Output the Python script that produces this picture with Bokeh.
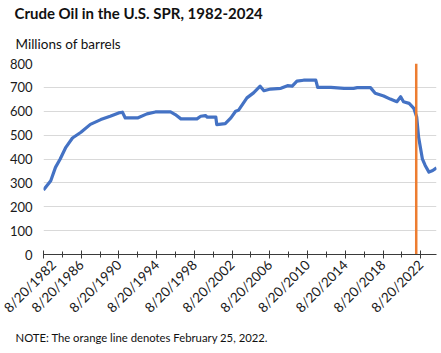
from bokeh.plotting import figure
from bokeh.models import FixedTicker, Range1d, Title
from bokeh.embed import file_html
from bokeh.resources import INLINE

FONT = "Lato"

# Data (decimal years, millions of barrels)
years = [1982.63, 1983.4, 1983.9, 1984.4, 1985.0, 1985.7, 1986.6, 1987.6, 1988.7,
         1989.7, 1990.6, 1991.0, 1991.3, 1992.6, 1993.6, 1994.5, 1996.1, 1996.6,
         1997.2, 1998.9, 1999.3, 1999.8, 2000.0, 2000.9, 2001.0, 2001.9, 2002.5,
         2003.0, 2003.3, 2004.2, 2004.9, 2005.6, 2006.0, 2006.7, 2007.8, 2008.5,
         2009.0, 2009.5, 2010.2, 2011.5, 2011.7, 2013.1, 2014.5, 2015.5, 2015.9,
         2017.3, 2017.8, 2018.7, 2019.4, 2020.1, 2020.5, 2020.8, 2021.4, 2021.9,
         2022.2, 2022.4, 2022.8, 2023.1, 2023.5, 2023.9, 2024.3]
barrels = [270, 309, 365, 400, 449, 488, 512, 545, 565,
           579, 593, 596, 572, 572, 589, 597, 597, 586,
           568, 568, 579, 582, 575, 576, 544, 548, 572,
           600, 604, 656, 677, 705, 686, 693, 696, 707,
           705, 726, 730, 730, 700, 700, 696, 696, 699,
           699, 675, 664, 651, 640, 661, 640, 633, 612,
           576, 492, 401, 373, 345, 352, 363]

invasion_date = 2022.15  # February 25, 2022
tick_years = [1982.63 + 4 * k for k in range(11)]
tick_labels = ["8/20/%d" % (1982 + 4 * k) for k in range(11)]
minor_years = [1982.63 + 2 * k for k in range(21)]
y_ticks = [0, 100, 200, 300, 400, 500, 600, 700, 800]

p = figure(width=441, height=353, output_backend="svg", toolbar_location=None,
           x_range=Range1d(1982.63, 2024.3), y_range=Range1d(0, 800),
           min_border_left=43, min_border_right=5, min_border_top=0,
           min_border_bottom=0)
p.outline_line_color = None
p.background_fill_color = "white"
p.border_fill_color = "white"

p.line(years, barrels, line_color="#4472C4", line_width=3.2, line_join="round")
p.segment(x0=[invasion_date], y0=[0], x1=[invasion_date], y1=[800],
          line_color="#ED7D31", line_width=2.5)

# x axis
p.xaxis.ticker = FixedTicker(ticks=tick_years, minor_ticks=minor_years)
p.xaxis.major_label_overrides = {t: l for t, l in zip(tick_years, tick_labels)}
p.xaxis.major_label_orientation = 0.785398
p.xaxis.axis_line_color = "#3a3a3a"
p.xaxis.axis_line_width = 1.2
p.xaxis.major_tick_line_color = "#3a3a3a"
p.xaxis.minor_tick_line_color = "#3a3a3a"
p.xaxis.major_tick_in = 4
p.xaxis.major_tick_out = 4
p.xaxis.minor_tick_in = 3
p.xaxis.minor_tick_out = 3
p.xaxis.major_label_text_font = FONT
p.xaxis.major_label_text_font_size = "13.5px"
p.xaxis.major_label_text_color = "#1a1a1a"
p.xaxis.major_label_standoff = 4
p.xgrid.grid_line_color = None

# y axis
p.yaxis.ticker = FixedTicker(ticks=y_ticks)
p.yaxis.axis_line_color = None
p.yaxis.major_tick_line_color = None
p.yaxis.minor_tick_line_color = None
p.yaxis.major_label_text_font = FONT
p.yaxis.major_label_text_font_size = "13px"
p.yaxis.major_label_text_color = "#1a1a1a"
p.yaxis.major_label_standoff = 5
p.ygrid.grid_line_color = "#d9d9d9"
p.ygrid.grid_line_width = 1

# titles (first added "above" is nearest the frame)
p.add_layout(Title(text="Millions of barrels", text_font=FONT,
                   text_font_size="13.5px", text_font_style="normal",
                   text_color="#111111", align="left", offset=-28,
                   standoff=23), "above")
p.add_layout(Title(text="Crude Oil in the U.S. SPR, 1982-2024", text_font=FONT,
                   text_font_size="15px", text_font_style="bold",
                   text_color="#111111", align="left", offset=-29,
                   standoff=2), "above")
p.add_layout(Title(text="NOTE: The orange line denotes February 25, 2022.",
                   text_font=FONT, text_font_size="11.3px",
                   text_font_style="normal", text_color="#111111",
                   align="left", offset=-28, standoff=8), "below")
p.add_layout(Title(text=" ", text_font_size="1px", standoff=3), "below")

open("out.html", "w").write(file_html(p, INLINE))
